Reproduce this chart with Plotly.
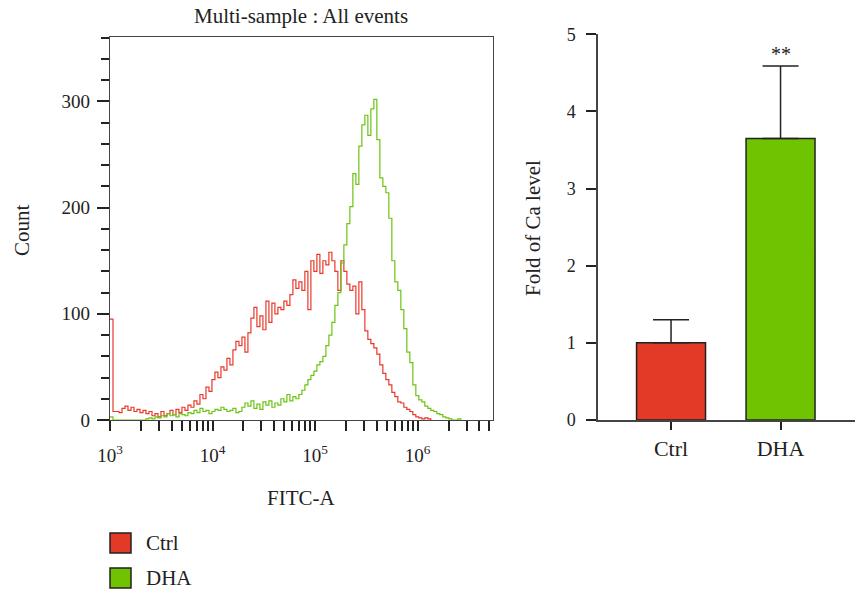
import numpy as np
import plotly.graph_objects as go

# ---------------- data ----------------
# histogram bins (log10 of FITC-A), evenly spaced in log space
bin_log_start = 3.0
bin_log_step = 0.02924
ctrl_counts = [95, 8, 8, 7, 11, 13, 9, 12, 8, 10,
               7, 9, 6, 8, 4, 6, 3, 8, 4, 6,
               9, 5, 10, 7, 12, 9, 14, 12, 18, 15,
               24, 20, 31, 27, 38, 45, 40, 50, 47, 58,
               52, 66, 74, 70, 78, 64, 82, 96, 106, 88,
               98, 85, 112, 92, 110, 100, 106, 104, 112, 108,
               118, 132, 124, 130, 122, 140, 104, 150, 140, 156,
               138, 150, 146, 158, 150, 140, 122, 150, 140, 128,
               122, 126, 100, 130, 104, 84, 76, 72, 68, 62,
               52, 44, 38, 33, 26, 22, 17, 16, 12, 10,
               8, 5, 3, 2, 1, 2, 1, 0]
dha_counts = [3, 0, 0, 0, 0, 0, 0, 0, 0, 0,
              0, 0, 1, 2, 1, 3, 2, 4, 3, 6,
              4, 5, 3, 6, 5, 4, 7, 6, 9, 7,
              11, 8, 9, 6, 8, 10, 9, 12, 10, 8,
              9, 11, 7, 8, 12, 16, 13, 18, 11, 15,
              10, 17, 14, 18, 12, 16, 14, 20, 17, 24,
              18, 22, 20, 24, 28, 33, 38, 42, 46, 52,
              55, 60, 70, 80, 92, 108, 120, 148, 165, 185,
              201, 232, 222, 258, 278, 287, 268, 293, 302, 264,
              228, 220, 214, 190, 150, 130, 122, 104, 86, 64,
              54, 33, 23, 19, 17, 13, 11, 9, 8, 6,
              5, 3, 2, 1, 0, 0, 1, 0]

hist_y_ticks = [0, 100, 200, 300]
hist_x_ticks = [1e3, 1e4, 1e5, 1e6]
hist_x_ticktext = ["10<sup>3</sup>", "10<sup>4</sup>", "10<sup>5</sup>", "10<sup>6</sup>"]

groups = ["Ctrl", "DHA"]
fold_mean = [1.0, 3.65]
fold_err = [0.30, 0.94]
bar_y_ticks = [0, 1, 2, 3, 4, 5]

RED = "#E23A26"
GREEN = "#6FC300"
RED_LINE = "#E8392A"
GREEN_LINE = "#6CC412"
INK = "#222222"
FONT = "Liberation Serif"

ctrl_x = 10 ** (bin_log_start + bin_log_step * np.arange(len(ctrl_counts)))
dha_x = 10 ** (bin_log_start + bin_log_step * np.arange(len(dha_counts)))

fig = go.Figure()
fig.add_trace(go.Scatter(x=ctrl_x, y=ctrl_counts, mode="lines",
                         line=dict(color=RED_LINE, width=1.2, shape="hv"),
                         xaxis="x", yaxis="y", showlegend=False))
fig.add_trace(go.Scatter(x=dha_x, y=dha_counts, mode="lines",
                         line=dict(color=GREEN_LINE, width=1.2, shape="hv"),
                         xaxis="x", yaxis="y", showlegend=False))

fig.add_trace(go.Bar(x=[0, 1], y=fold_mean, width=0.63,
                     marker=dict(color=[RED, GREEN], line=dict(color=INK, width=1.5)),
                     error_y=dict(type="data", array=fold_err, arrayminus=[0, 0],
                                  symmetric=False, color=INK, thickness=1.5, width=18),
                     xaxis="x2", yaxis="y2", showlegend=False))

minor_x = [m * 10 ** d for d in range(3, 7) for m in range(2, 10) if m * 10 ** d < 5.5e6]

fig.update_layout(
    width=857, height=598,
    margin=dict(l=0, r=0, t=0, b=0, autoexpand=False),
    paper_bgcolor="white", plot_bgcolor="white",
    font=dict(family=FONT, size=19, color=INK),
    xaxis=dict(type="log", domain=[110 / 857, 493 / 857], range=[3, 6.735],
               tickmode="array", tickvals=hist_x_ticks, ticktext=hist_x_ticktext,
               ticks="outside", ticklen=10, tickwidth=1.5, tickcolor=INK,
               minor=dict(tickmode="array", tickvals=minor_x, ticks="outside",
                          ticklen=10, tickwidth=1.5, tickcolor=INK),
               showline=True, linecolor="#444", linewidth=1.3, mirror=True,
               showgrid=False, zeroline=False, ticklabelstandoff=8, automargin=False,
               tickfont=dict(size=19)),
    yaxis=dict(domain=[1 - 420 / 598, 1 - 37 / 598], range=[0, 360.7],
               tickmode="array", tickvals=hist_y_ticks,
               ticks="outside", ticklen=12, tickwidth=1.5, tickcolor=INK,
               minor=dict(dtick=20, tick0=0, ticks="outside", ticklen=8,
                          tickwidth=1.5, tickcolor=INK),
               showline=True, linecolor="#444", linewidth=1.3, mirror=True,
               showgrid=False, zeroline=False, ticklabelstandoff=3, automargin=False,
               tickfont=dict(size=19)),
    xaxis2=dict(domain=[598 / 857, 855 / 857], range=[-0.667, 1.68],
                tickmode="array", tickvals=[0, 1], ticktext=groups,
                ticks="outside", ticklen=8, tickwidth=1.5, tickcolor=INK,
                showline=True, linecolor="#444", linewidth=1.5,
                showgrid=False, zeroline=False, anchor="y2", ticklabelstandoff=0,
                automargin=False, tickfont=dict(size=22)),
    yaxis2=dict(domain=[1 - 420 / 598, 1 - 34.3 / 598], range=[0, 5],
                tickmode="array", tickvals=bar_y_ticks,
                ticks="outside", ticklen=10, tickwidth=1.5, tickcolor=INK,
                showline=True, linecolor="#444", linewidth=1.5,
                showgrid=False, zeroline=False, anchor="x2", ticklabelstandoff=7,
                automargin=False, tickfont=dict(size=18)),
)

annotations = [
    dict(text="Multi-sample : All events", x=301 / 857, y=1 - 16 / 598, xref="paper", yref="paper",
         yanchor="middle", showarrow=False, font=dict(size=21)),
    dict(text="Count", x=22 / 857, y=1 - 230 / 598, xref="paper", yref="paper",
         xanchor="center", yanchor="middle", showarrow=False, textangle=-90, font=dict(size=21)),
    dict(text="FITC-A", x=301 / 857, y=1 - 498 / 598, xref="paper", yref="paper",
         yanchor="middle", showarrow=False, font=dict(size=21)),
    dict(text="Fold of Ca level", x=533 / 857, y=1 - 228 / 598, xref="paper", yref="paper",
         xanchor="center", yanchor="middle", showarrow=False, textangle=-90, font=dict(size=21)),
    dict(text="**", x=1, y=fold_mean[1] + fold_err[1], xref="x2", yref="y2",
         yanchor="bottom", yshift=-1, showarrow=False, font=dict(size=20)),
]
shapes = []
legend_items = [("Ctrl", RED, 543), ("DHA", GREEN, 578)]
for name, col, yc in legend_items:
    shapes.append(dict(type="rect", xref="paper", yref="paper",
                       x0=110 / 857, x1=131 / 857, y0=1 - (yc + 10) / 598, y1=1 - (yc - 10) / 598,
                       fillcolor=col, line=dict(color=INK, width=1.5)))
    annotations.append(dict(text=name, x=144 / 857, y=1 - yc / 598, xref="paper", yref="paper",
                            xanchor="left", yanchor="middle", showarrow=False, font=dict(size=21)))

fig.update_layout(annotations=annotations, shapes=shapes)
fig.write_html("out.html")
